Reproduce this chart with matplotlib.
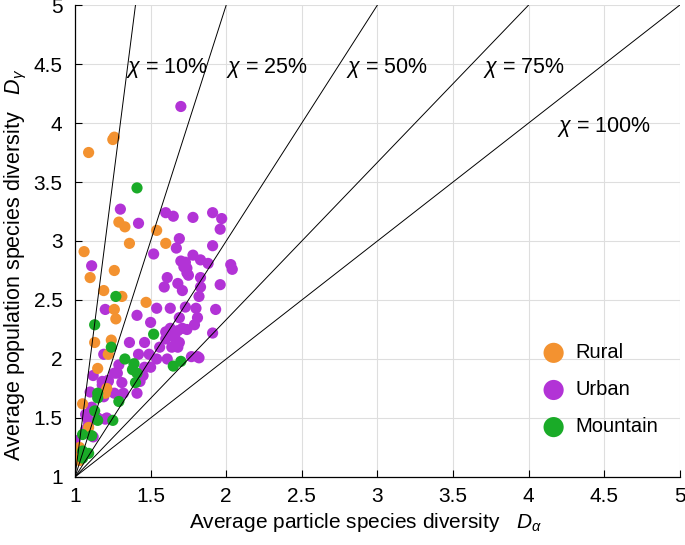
import matplotlib
matplotlib.use("Agg")
import matplotlib.pyplot as plt
import numpy as np

plt.rcParams['font.family'] = ['Liberation Sans', 'DejaVu Sans']
plt.rcParams['mathtext.fontset'] = 'custom'
plt.rcParams['mathtext.it'] = 'Liberation Sans:italic'
plt.rcParams['mathtext.rm'] = 'Liberation Sans'

# Datos (D_alpha, D_gamma)
rural_x = [1.09, 1.25, 1.26, 1.06, 1.29, 1.33, 1.54, 1.36, 1.60, 1.10, 1.26, 1.19, 1.31,
           1.47, 1.26, 1.27, 1.13, 1.24, 1.22, 1.15, 1.21, 1.20, 1.05, 1.09, 1.03, 1.03, 1.01]
rural_y = [3.75, 3.86, 3.88, 2.91, 3.16, 3.12, 3.09, 2.98, 2.98, 2.69, 2.75, 2.58, 2.53,
           2.48, 2.42, 2.34, 2.14, 2.16, 2.04, 1.92, 1.75, 1.71, 1.62, 1.42, 1.25, 1.14, 1.16]

mountain_x = [1.41, 1.27, 1.13, 1.52, 1.24, 1.33, 1.39, 1.38, 1.41, 1.40, 1.15, 1.15,
              1.29, 1.13, 1.15, 1.25, 1.05, 1.11, 1.05, 1.05, 1.65, 1.70, 1.09]
mountain_y = [3.45, 2.53, 2.29, 2.21, 2.10, 2.00, 1.96, 1.91, 1.88, 1.80, 1.71, 1.67,
              1.64, 1.56, 1.48, 1.48, 1.36, 1.35, 1.22, 1.16, 1.94, 1.98, 1.20]

urban_x = [1.70, 1.30, 1.42, 1.60, 1.65, 1.78, 1.91, 1.97, 1.96, 1.69, 1.67, 1.91, 1.52,
           1.78, 1.73, 1.83, 1.88, 2.03, 2.04, 1.74, 1.74, 1.11, 1.61, 1.83, 1.68, 1.59,
           1.71, 1.83, 1.96, 1.82, 1.20, 1.54, 1.63, 1.73, 1.80, 1.93, 1.41, 1.69, 1.50,
           1.81, 1.79, 1.63, 1.60, 1.66, 1.71, 1.74, 1.46, 1.36, 1.66, 1.69, 1.91, 1.64,
           1.68, 1.19, 1.29, 1.42, 1.49, 1.54, 1.61, 1.77, 1.82, 1.26, 1.45, 1.31, 1.22,
           1.18, 1.41, 1.32, 1.10, 1.19, 1.11, 1.08, 1.21, 1.00, 1.12, 1.01, 1.07, 1.46,
           1.50, 1.43, 1.81, 1.72, 1.75, 1.70, 1.60, 1.64, 1.68, 1.56, 1.12, 1.18, 1.22,
           1.28, 1.26, 1.07, 1.11, 1.20, 1.02, 1.09, 1.15]
urban_y = [4.14, 3.27, 3.15, 3.24, 3.21, 3.20, 3.24, 3.19, 3.10, 3.02, 2.94, 2.96, 2.89,
           2.88, 2.82, 2.84, 2.81, 2.80, 2.76, 2.77, 2.73, 2.79, 2.69, 2.69, 2.64, 2.61,
           2.58, 2.61, 2.63, 2.53, 2.42, 2.43, 2.43, 2.44, 2.43, 2.42, 2.37, 2.35, 2.31,
           2.35, 2.29, 2.26, 2.23, 2.23, 2.26, 2.25, 2.14, 2.14, 2.18, 2.14, 2.22, 2.10,
           2.10, 2.04, 1.95, 2.04, 2.04, 2.00, 2.00, 2.02, 2.01, 1.88, 1.86, 1.80, 1.81,
           1.78, 1.71, 1.71, 1.72, 1.68, 1.59, 1.50, 1.50, 1.31, 1.34, 1.22, 1.40, 1.93,
           1.93, 1.81, 2.02, 2.78, 2.71, 2.83, 2.17, 2.20, 2.24, 2.10, 1.86, 1.81, 1.82,
           1.88, 1.71, 1.53, 1.59, 1.49, 1.25, 1.45, 1.50]

chi_values = [0.10, 0.25, 0.50, 0.75, 1.00]
chi_labels = [r'$\chi$ = 10%', r'$\chi$ = 25%', r'$\chi$ = 50%', r'$\chi$ = 75%', r'$\chi$ = 100%']
label_pos = [(1.34, 4.47), (2.00, 4.47), (2.79, 4.47), (3.70, 4.47), (4.19, 3.97)]

fig = plt.figure(figsize=(6.85, 5.45), dpi=100)
ax = fig.add_axes([0.1095, 0.1248, 0.883, 0.866])

ax.grid(True, color='#dedede', linewidth=0.8)
ax.set_axisbelow(True)

# Lineas de chi constante: D_gamma - 1 = (D_alpha - 1) / chi
for chi in chi_values:
    xs = np.array([1.0, 1.0 + 4.0 * chi])
    ys = 1.0 + (xs - 1.0) / chi
    ax.plot(xs, ys, color='black', linewidth=0.7, zorder=3)

for (tx, ty), lab in zip(label_pos, chi_labels):
    ax.text(tx, ty, lab, fontsize=15.5, ha='left', va='center', zorder=4)

ax.scatter(urban_x, urban_y, s=65, color='#b233d6', edgecolors='none', label='Urban', zorder=2)
ax.scatter(rural_x, rural_y, s=65, color='#f39230', edgecolors='none', label='Rural', zorder=2)
ax.scatter(mountain_x, mountain_y, s=65, color='#1aab28', edgecolors='none', label='Mountain', zorder=2)

handles, labels = ax.get_legend_handles_labels()
order = [1, 0, 2]
ax.legend([handles[i] for i in order], [labels[i] for i in order],
          loc='upper left', bbox_to_anchor=(0.728, 0.322), frameon=False,
          markerscale=1.8, fontsize=14.5, labelspacing=0.9, handletextpad=0.1)

ax.set_xlim(1, 5)
ax.set_ylim(1, 5)
ticks = np.arange(1, 5.01, 0.5)
ax.set_xticks(ticks)
ax.set_yticks(ticks)
ax.set_xticklabels(['1', '1.5', '2', '2.5', '3', '3.5', '4', '4.5', '5'])
ax.set_yticklabels(['1', '1.5', '2', '2.5', '3', '3.5', '4', '4.5', '5'])
ax.tick_params(direction='in', labelsize=15, length=5, width=0.8)
ax.tick_params(axis='x', pad=7)
ax.tick_params(axis='y', pad=9)
for s in ['top', 'right']:
    ax.spines[s].set_visible(False)
for s in ['left', 'bottom']:
    ax.spines[s].set_linewidth(0.9)

ax.set_xlabel(r'Average particle species diversity  $\ D_{\alpha}$', fontsize=15)
ax.set_ylabel(r'Average population species diversity  $\ D_{\gamma}$', fontsize=15.5)
ax.xaxis.set_label_coords(0.48, -0.072)
ax.yaxis.set_label_coords(-0.076, 0.45)

fig.savefig('out.png', dpi=100)
